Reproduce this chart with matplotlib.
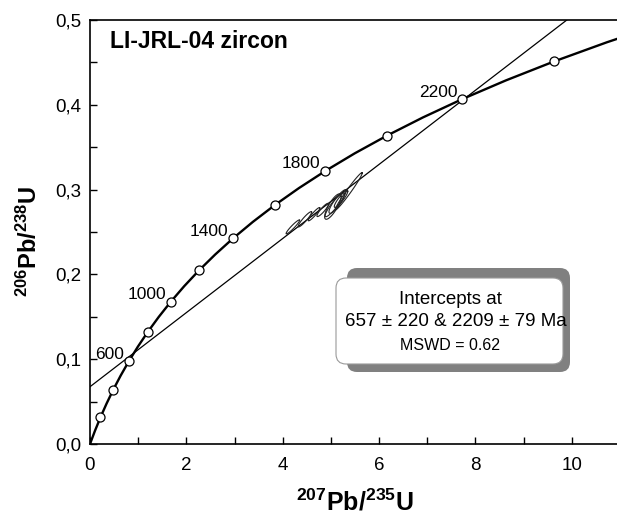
import numpy as np
import matplotlib
matplotlib.use("Agg")
import matplotlib.pyplot as plt
from matplotlib.patches import FancyBboxPatch
from matplotlib.ticker import MultipleLocator, FuncFormatter

plt.rcParams['font.family'] = ['Liberation Sans', 'DejaVu Sans']
plt.rcParams['mathtext.fontset'] = 'custom'
plt.rcParams['mathtext.rm'] = 'Liberation Sans'
plt.rcParams['mathtext.bf'] = 'Liberation Sans:bold'

# Concordia curve (207Pb/235U, 206Pb/238U) every 100 Ma, 0 - 2600 Ma
conc_age = [0, 100, 200, 300, 400, 500, 600, 700, 800, 900, 1000, 1100, 1200,
            1300, 1400, 1500, 1600, 1700, 1800, 1900, 2000, 2100, 2200, 2300,
            2400, 2500, 2600]
conc_x = [0.0, 0.1035, 0.2177, 0.3437, 0.4828, 0.6362, 0.8056, 0.9925, 1.1987,
          1.4264, 1.6774, 1.9546, 2.2603, 2.5979, 2.9701, 3.3812, 3.8346, 4.3350,
          4.8865, 5.4955, 6.1677, 6.9096, 7.7282, 8.6318, 9.6294, 10.7304, 11.945]
conc_y = [0.0, 0.01563, 0.03151, 0.04764, 0.06402, 0.08065, 0.09754, 0.11470,
          0.13213, 0.14983, 0.16781, 0.18607, 0.20461, 0.22344, 0.24256, 0.26198,
          0.28170, 0.30173, 0.32207, 0.34279, 0.36377, 0.38510, 0.40676, 0.42877,
          0.45109, 0.47378, 0.49679]

# age markers every 200 Ma, labelled ones
marker_ages = [200, 400, 600, 800, 1000, 1200, 1400, 1600, 1800, 2000, 2200, 2400]
label_ages = [600, 1000, 1400, 1800, 2200]

# discordia intercepts (657 Ma and 2209 Ma)
lower_int = (0.910, 0.1073)
upper_int = (7.807, 0.4087)

# analyses: x, y, sigma x, sigma y, rho
spot_x = [4.21, 4.46, 4.65, 4.83, 5.04, 5.12, 5.21, 5.37, 5.10]
spot_y = [0.256, 0.265, 0.271, 0.276, 0.280, 0.284, 0.289, 0.298, 0.284]
spot_sx = [0.14, 0.14, 0.12, 0.12, 0.17, 0.16, 0.14, 0.28, 0.22]
spot_sy = [0.0082, 0.0090, 0.0078, 0.0078, 0.0150, 0.0120, 0.0100, 0.0220, 0.0160]
spot_rho = [0.95, 0.93, 0.93, 0.90, 0.80, 0.85, 0.90, 0.98, 0.93]

fig = plt.figure(figsize=(6.17, 5.18), dpi=100)
W, H = 617, 518
ax = fig.add_axes([90 / W, (H - 444) / H, 530 / W, 424 / H])

# discordia line
ax.axline(lower_int, upper_int, color='black', lw=0.9, zorder=2)

# error ellipses
t = np.linspace(0, 2 * np.pi, 100)
for cx, cy, sx, sy, r in zip(spot_x, spot_y, spot_sx, spot_sy, spot_rho):
    ex = cx + sx * np.cos(t)
    ey = cy + sy * (r * np.cos(t) + np.sqrt(1 - r ** 2) * np.sin(t))
    ax.plot(ex, ey, color='#222222', lw=0.8, zorder=3)

# concordia
ax.plot(conc_x, conc_y, color='black', lw=1.7, zorder=4)
mx = [conc_x[conc_age.index(a)] for a in marker_ages]
my = [conc_y[conc_age.index(a)] for a in marker_ages]
ax.plot(mx, my, 'o', ms=6.5, mfc='white', mec='black', mew=0.9, zorder=5)
for a in label_ages:
    i = conc_age.index(a)
    ax.annotate(str(a), (conc_x[i], conc_y[i]), xytext=(-5, 7),
                textcoords='offset pixels', ha='right', va='center',
                fontsize=12.5, zorder=6)

ax.set_xlim(0, 11)
ax.set_ylim(0, 0.5)
ax.xaxis.set_major_locator(MultipleLocator(2))
ax.xaxis.set_minor_locator(MultipleLocator(1))
ax.yaxis.set_major_locator(MultipleLocator(0.1))
ax.yaxis.set_minor_locator(MultipleLocator(0.05))
ax.yaxis.set_major_formatter(FuncFormatter(lambda v, p: f"{v:.1f}".replace('.', ',')))
ax.tick_params(which='both', direction='in', length=5, width=1)
ax.tick_params(axis='x', labelsize=13.5, pad=9)
ax.tick_params(axis='y', labelsize=13.5, pad=6)
ax.spines['right'].set_visible(False)
for s in ['left', 'bottom', 'top']:
    ax.spines[s].set_linewidth(1.2)

# labels
fig.text(355 / W, 1 - 502 / H, r'$\mathbf{^{207}Pb/^{235}U}$', fontsize=18,
         ha='center', va='center')
fig.text(29 / W, 1 - 241 / H, r'$\mathbf{^{206}Pb/^{238}U}$', fontsize=17,
         ha='center', va='center', rotation=90)
fig.text(110 / W, 1 - 41 / H, 'LI-JRL-04 zircon', fontsize=16.5,
         fontweight='bold', ha='left', va='center')

# intercept box with shadow (pixel -> inch coordinates)
tr = fig.dpi_scale_trans
shadow = FancyBboxPatch((347 / 100, (H - 372) / 100), (570 - 347) / 100, (372 - 268) / 100,
                        boxstyle='round,pad=0,rounding_size=0.1', transform=tr,
                        fc='#808080', ec='none', zorder=10)
box = FancyBboxPatch((336 / 100, (H - 364) / 100), (563 - 336) / 100, (364 - 278) / 100,
                     boxstyle='round,pad=0,rounding_size=0.1', transform=tr,
                     fc='white', ec='#9a9a9a', lw=0.8, zorder=11)
fig.patches.extend([shadow, box])
fig.text(450 / W, 1 - 299 / H, 'Intercepts at', fontsize=13.5, ha='center', va='center', zorder=12)
fig.text(456 / W, 1 - 322 / H, '657 ± 220 & 2209 ± 79 Ma', fontsize=13.5, ha='center', va='center', zorder=12)
fig.text(450 / W, 1 - 346 / H, 'MSWD = 0.62', fontsize=11.5, ha='center', va='center', zorder=12)

fig.savefig('out.png', dpi=100)
